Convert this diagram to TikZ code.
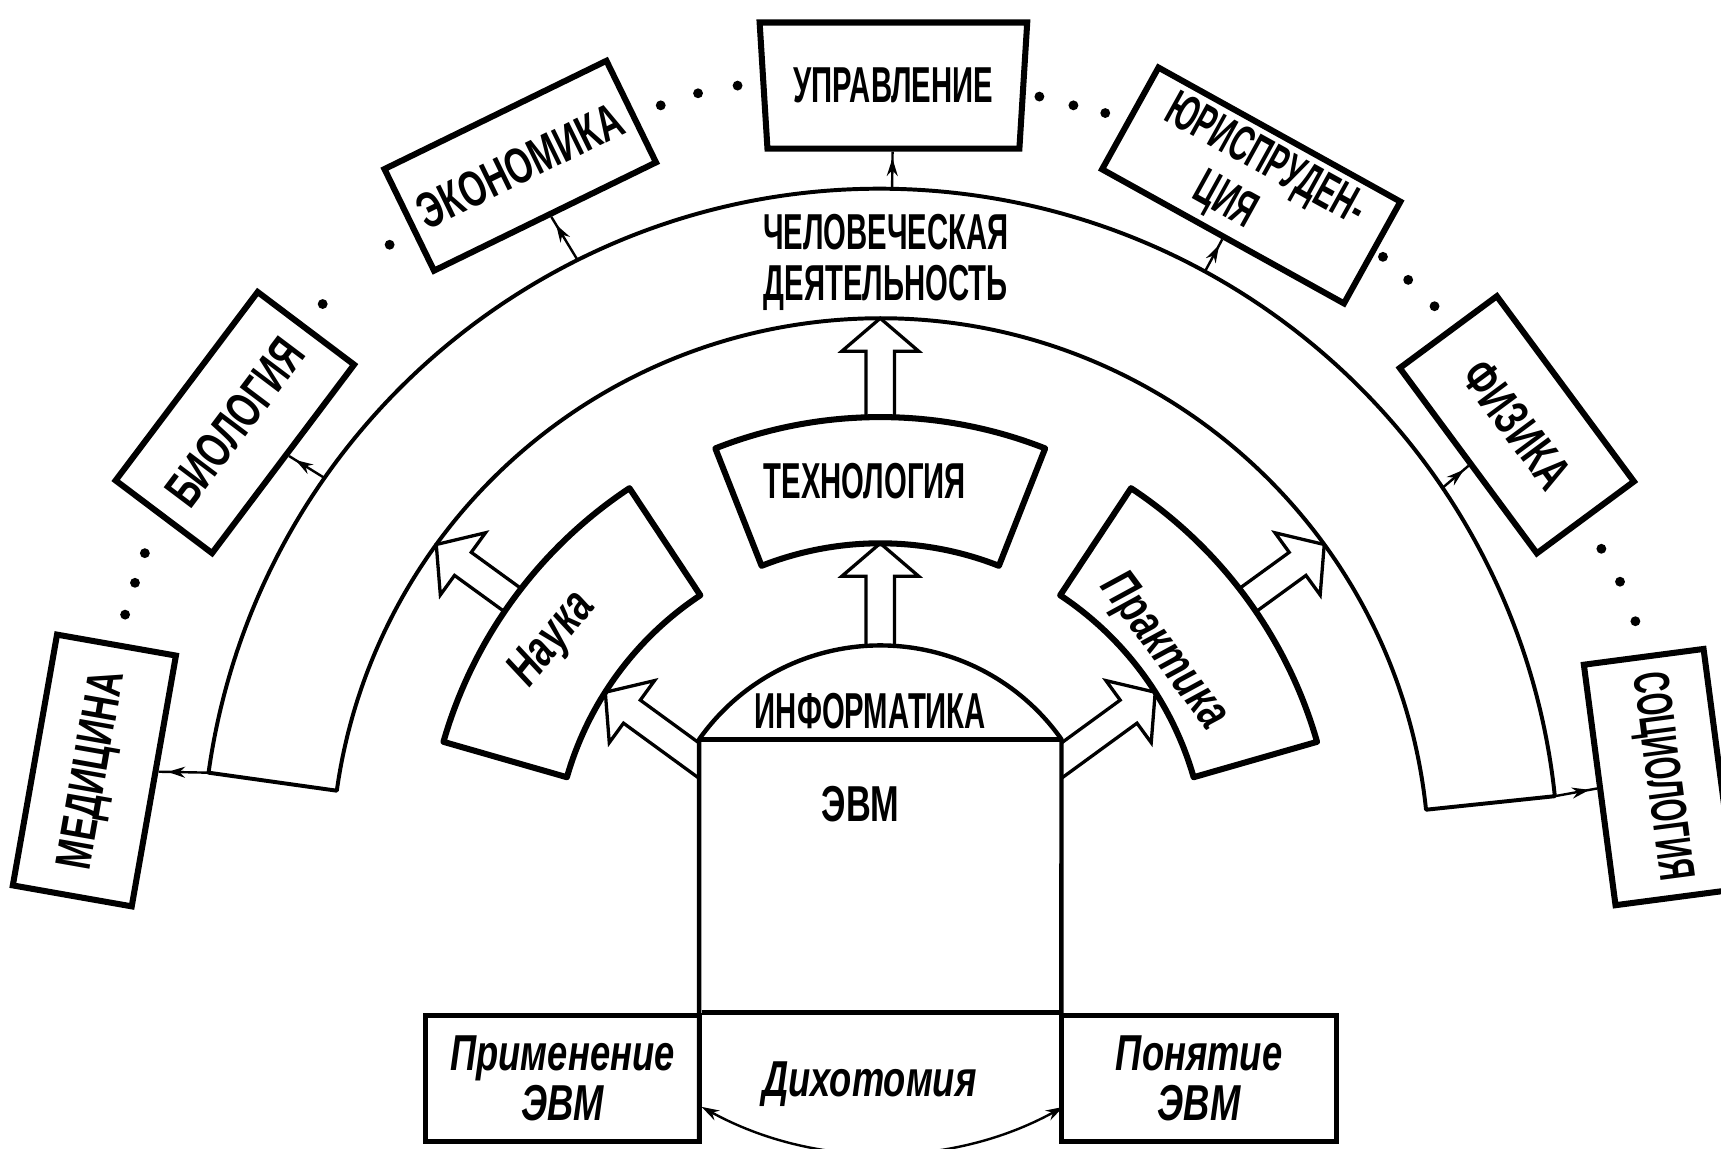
\documentclass[tikz,border=0pt]{standalone}
\usepackage{fontspec}
\usetikzlibrary{calc,arrows.meta,decorations.markings,shapes.geometric}

% condensed drafting-style lettering
\newfontfamily\narrowfam{Liberation Sans}[FakeStretch=0.58]
\newfontfamily\mediumfam{Liberation Sans}[FakeStretch=0.68]
\newfontfamily\slantfam{Liberation Sans}[FakeStretch=0.72]
\newcommand\narrowcaps{\narrowfam\bfseries\fontsize{46pt}{47pt}\selectfont}
\newcommand\mediumcaps{\mediumfam\bfseries\fontsize{46pt}{47pt}\selectfont}
\newcommand\slantlower{\slantfam\bfseries\itshape\fontsize{46pt}{46pt}\selectfont}

% hollow block arrow from base #1 to tip #2
\newcommand\hollowarrow[2]{%
  \coordinate (hb) at ($(#2)!30pt!(#1)$);
  \draw[holarrow]
    ($(#1)!13pt!90:(#2)$) -- ($(hb)!13pt!90:(#2)$) -- ($(hb)!35pt!90:(#2)$)
    -- (#2)
    -- ($(hb)!35pt!-90:(#2)$) -- ($(hb)!13pt!-90:(#2)$) -- ($(#1)!13pt!-90:(#2)$);
}

\tikzset{
  fieldbox/.style={draw, line width=5.5pt, rectangle, inner sep=0pt,
                   font=\mediumcaps, align=center},
  ringpart/.style={line width=5.5pt, line join=round},
  ringline/.style={line width=3.6pt, line join=round},
  holarrow/.style={line width=3pt, line join=miter},
  conn/.style={line width=2.2pt, postaction={decorate},
    decoration={markings, mark=at position 0.82 with
      {\arrow{Stealth[length=16pt,width=10pt]}}}},
  dichot/.style={line width=2.2pt,
    {Stealth[length=16pt,width=10pt]}-{Stealth[length=16pt,width=10pt]}},
  lbl/.style={font=\narrowcaps, inner sep=0pt, align=center},
  ilbl/.style={font=\slantlower, inner sep=0pt, align=center},
}

\begin{document}
\begin{tikzpicture}[x=1pt,y=1pt]
\useasboundingbox (-802,-256) rectangle (766,790);

% ---- anchor points ----
\coordinate (infoTop) at (0,202);
\coordinate (techBot) at (0,295);
\coordinate (techTop) at (0,410);
\coordinate (humTop)  at (0,500);
\coordinate (infoL)   at (-150,86);
\coordinate (sciIn)   at (-250.5,159.3);
\coordinate (infoR)   at (150,86);
\coordinate (pracIn)  at (250.5,159.3);
\coordinate (sciOut)  at (144:414pt);
\coordinate (sciRing) at (144:500pt);
\coordinate (pracOut) at (36:414pt);
\coordinate (pracRing) at (36:500pt);

% ---- hollow arrows ----
\hollowarrow{infoTop}{techBot}
\hollowarrow{techTop}{humTop}
\hollowarrow{sciOut}{sciRing}
\hollowarrow{pracOut}{pracRing}
% the two side arrows start on the walls of the computer block
\begin{scope}
  \clip (-802,-256) rectangle (-165,790);
  \hollowarrow{infoL}{sciIn}
\end{scope}
\begin{scope}
  \clip (165,-256) rectangle (766,790);
  \hollowarrow{infoR}{pracIn}
\end{scope}

% ---- outer ring: human activity ----
\draw[ringline] (172:500pt) -- (172:618pt)
  arc[start angle=172, end angle=6, radius=618pt] -- (6:500pt)
  arc[start angle=6, end angle=172, radius=500pt] -- cycle;
\node[lbl] (hum) at (5,551) {ЧЕЛОВЕЧЕСКАЯ\\ДЕЯТЕЛЬНОСТЬ};

% ---- middle ring: science, technology, practice ----
\draw[ringpart] (164:297pt) -- (164:414pt)
  arc[start angle=164, end angle=123.5, radius=414pt] -- (123.5:297pt)
  arc[start angle=123.5, end angle=164, radius=297pt] -- cycle;
\draw[ringpart] (111.5:295pt) -- (111.5:410pt)
  arc[start angle=111.5, end angle=68.5, radius=410pt] -- (68.5:295pt)
  arc[start angle=68.5, end angle=111.5, radius=295pt] -- cycle;
\draw[ringpart] (56.5:297pt) -- (56.5:414pt)
  arc[start angle=56.5, end angle=16, radius=414pt] -- (16:297pt)
  arc[start angle=16, end angle=56.5, radius=297pt] -- cycle;
\node[ilbl, rotate=51] (sci) at (-298,207) {Наука};
\node[lbl] (tech) at (-14,352) {ТЕХНОЛОГИЯ};
\node[ilbl, rotate=-53.5] (prac) at (258,196) {Практика};

% ---- computer block with informatics dome ----
\draw[line width=4pt, line join=round] (-165,-250) -- (-165,116.4)
  arc[start angle=144.8, end angle=35.2, radius=202pt] -- (165,-250);
\draw[line width=4.5pt] (-165,116.4) -- (165,116.4);
\node[lbl] (info) at (-9,142) {ИНФОРМАТИКА};
\node[lbl, font=\mediumcaps] (evm) at (-18,57) {ЭВМ};

% ---- dichotomy band ----
\node[fieldbox, font=\slantlower, line width=4.5pt,
      minimum width=249pt, minimum height=115pt] (appl) at (-289.5,-192.5)
      {Применение\\ЭВМ};
\node[fieldbox, font=\slantlower, line width=4.5pt,
      minimum width=251pt, minimum height=115pt] (conc) at (290.5,-192.5)
      {Понятие\\ЭВМ};
\draw[line width=4.5pt] (appl.north east) -- (conc.north west);
\node[ilbl] (dich) at (-10,-198) {Дихотомия};
\draw[dichot] ([yshift=-26pt]appl.east)
  arc[start angle=241.2, end angle=298.8, radius=342pt];

% ---- fields of application ----
\node[fieldbox, rotate=80, minimum width=232pt, minimum height=110pt]
  (med) at (-716,88) {МЕДИЦИНА};
\node[fieldbox, rotate=53, minimum width=215pt, minimum height=110pt]
  (bio) at (-588,405) {БИОЛОГИЯ};
\node[fieldbox, rotate=26, minimum width=225pt, minimum height=103pt]
  (eco) at (-328,639) {ЭКОНОМИКА};
\node[fieldbox, font=\narrowcaps, trapezium, trapezium angle=80,
      shape border rotate=180, trapezium stretches=true,
      minimum width=244pt, minimum height=115pt]
  (upr) at (12,712) {УПРАВЛЕНИЕ};
\node[fieldbox, font=\narrowcaps, rotate=-29, minimum width=252pt,
      minimum height=106pt, execute at begin node={\setlength{\baselineskip}{50pt}}]
  (jur) at (338,621) {ЮРИСПРУДЕН-\\ЦИЯ\hspace*{28pt}};
\node[fieldbox, rotate=-53.5, minimum width=210pt, minimum height=110pt]
  (fiz) at (580,403) {ФИЗИКА};
\node[fieldbox, font=\narrowcaps, rotate=-82.5, minimum width=221pt,
      minimum height=110pt] (soc) at (710,82) {СОЦИОЛОГИЯ};

% ---- links from the ring to the fields ----
\coordinate (ringL)   at (172:618pt);
\coordinate (ringBio) at (145:618pt);
\coordinate (ringEco) at (116.5:618pt);
\coordinate (ringUpr) at (89:618pt);
\coordinate (ringJur) at (61.4:618pt);
\coordinate (ringFiz) at (34:618pt);
\coordinate (ringR)   at (6:618pt);
\draw[conn] (ringL)   -- (med);
\draw[conn] (ringBio) -- (bio);
\draw[conn] (ringEco) -- (eco);
\draw[conn] (ringUpr) -- (upr);
\draw[conn] (ringJur) -- (jur);
\draw[conn] (ringFiz) -- (fiz);
\draw[conn] (ringR)   -- (soc);

% ---- ellipsis dots between the fields ----
\foreach \p in {(-670,286),(-679,259),(-688,230),
                (-508,513),(-447,567),
                (-200,694),(-166,705),(-130,712),
                (145,702),(176,694),(205,687),
                (458,556),(481,535),(505,511),
                (657,290),(674,260),(688,224)}
  \fill \p circle[radius=4.5pt];
\end{tikzpicture}
\end{document}
